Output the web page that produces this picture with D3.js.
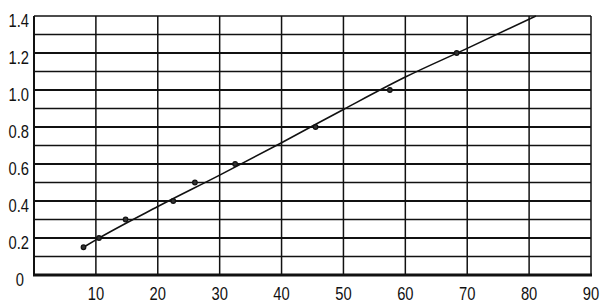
<!DOCTYPE html>
<html>
<head>
<meta charset="utf-8">
<script src="https://cdn.jsdelivr.net/npm/d3@7"></script>
<style>
  body { margin: 0; background: #fff; }
  text { font-family: "Liberation Sans", Arial, sans-serif; font-size: 18px; fill: #111; }
</style>
</head>
<body>
<svg width="610" height="306"></svg>
<script>
'use strict';

// measured points
const xVals = [8, 10.5, 14.8, 22.5, 26, 32.5, 45.5, 57.5, 68.3];
const yVals = [0.15, 0.2, 0.3, 0.4, 0.5, 0.6, 0.8, 1.0, 1.2];

// fitted curve
const fitX = [8, 10, 20, 30, 40, 50, 60, 70, 81.1];
const fitY = [0.15, 0.19, 0.37, 0.54, 0.715, 0.895, 1.07, 1.225, 1.4];

const xTicks = [10, 20, 30, 40, 50, 60, 70, 80, 90];
const yTicks = [0, 0.2, 0.4, 0.6, 0.8, 1.0, 1.2, 1.4];
const yGrid = [0.1, 0.2, 0.3, 0.4, 0.5, 0.6, 0.7, 0.8, 0.9, 1.0, 1.1, 1.2, 1.3];

var svg = d3.select("svg");

var x = d3.scaleLinear().domain([0, 90]).range([34, 591]);
var y = d3.scaleLinear().domain([0, 1.4]).range([275, 16]);

// horizontal grid
svg.selectAll("line.hg")
  .data(yGrid)
  .enter().append("line")
    .attr("class", "hg")
    .attr("x1", x(0)).attr("x2", x(90))
    .attr("y1", d => y(d)).attr("y2", d => y(d))
    .attr("stroke", "#111")
    .attr("stroke-width", d => (Math.round(d * 10) % 2 === 0) ? 2 : 1.4);

// vertical grid
svg.selectAll("line.vg")
  .data(xTicks)
  .enter().append("line")
    .attr("class", "vg")
    .attr("x1", d => x(d)).attr("x2", d => x(d))
    .attr("y1", y(1.4)).attr("y2", y(0))
    .attr("stroke", "#111")
    .attr("stroke-width", 1.5);

// frame
svg.append("line")
  .attr("x1", x(0)).attr("x2", x(90))
  .attr("y1", y(1.4)).attr("y2", y(1.4))
  .attr("stroke", "#111").attr("stroke-width", 1.5);
svg.append("line")
  .attr("x1", x(0)).attr("x2", x(0))
  .attr("y1", y(1.4)).attr("y2", y(0))
  .attr("stroke", "#111").attr("stroke-width", 2);
svg.append("line")
  .attr("x1", x(0) - 1).attr("x2", x(90) + 1)
  .attr("y1", y(0)).attr("y2", y(0))
  .attr("stroke", "#111").attr("stroke-width", 3);

// labels (narrow look via horizontal squeeze)
svg.selectAll("text.yl")
  .data(yTicks)
  .enter().append("text")
    .attr("class", "yl")
    .attr("transform", d => "translate(" + (d === 0 ? 24 : 29) + "," + (y(d) + 11) + ") scale(0.82,1)")
    .attr("text-anchor", "end")
    .text(d => d === 0 ? "0" : d.toFixed(1));

svg.selectAll("text.xl")
  .data(xTicks)
  .enter().append("text")
    .attr("class", "xl")
    .attr("transform", d => "translate(" + x(d) + ",300) scale(0.82,1)")
    .attr("text-anchor", "middle")
    .text(d => d);

// fit line
var line = d3.line()
  .x(d => x(d[0]))
  .y(d => y(d[1]))
  .curve(d3.curveMonotoneX);

svg.append("path")
  .datum(fitX.map((c, i) => [c, fitY[i]]))
  .attr("d", line)
  .attr("fill", "none")
  .attr("stroke", "#111")
  .attr("stroke-width", 1.6);

// points
svg.selectAll("circle")
  .data(xVals.map((c, i) => [c, yVals[i]]))
  .enter().append("circle")
    .attr("cx", d => x(d[0]))
    .attr("cy", d => y(d[1]))
    .attr("r", 2.3)
    .attr("fill", "#333")
    .attr("stroke", "#111")
    .attr("stroke-width", 1.2);
</script>
</body>
</html>
